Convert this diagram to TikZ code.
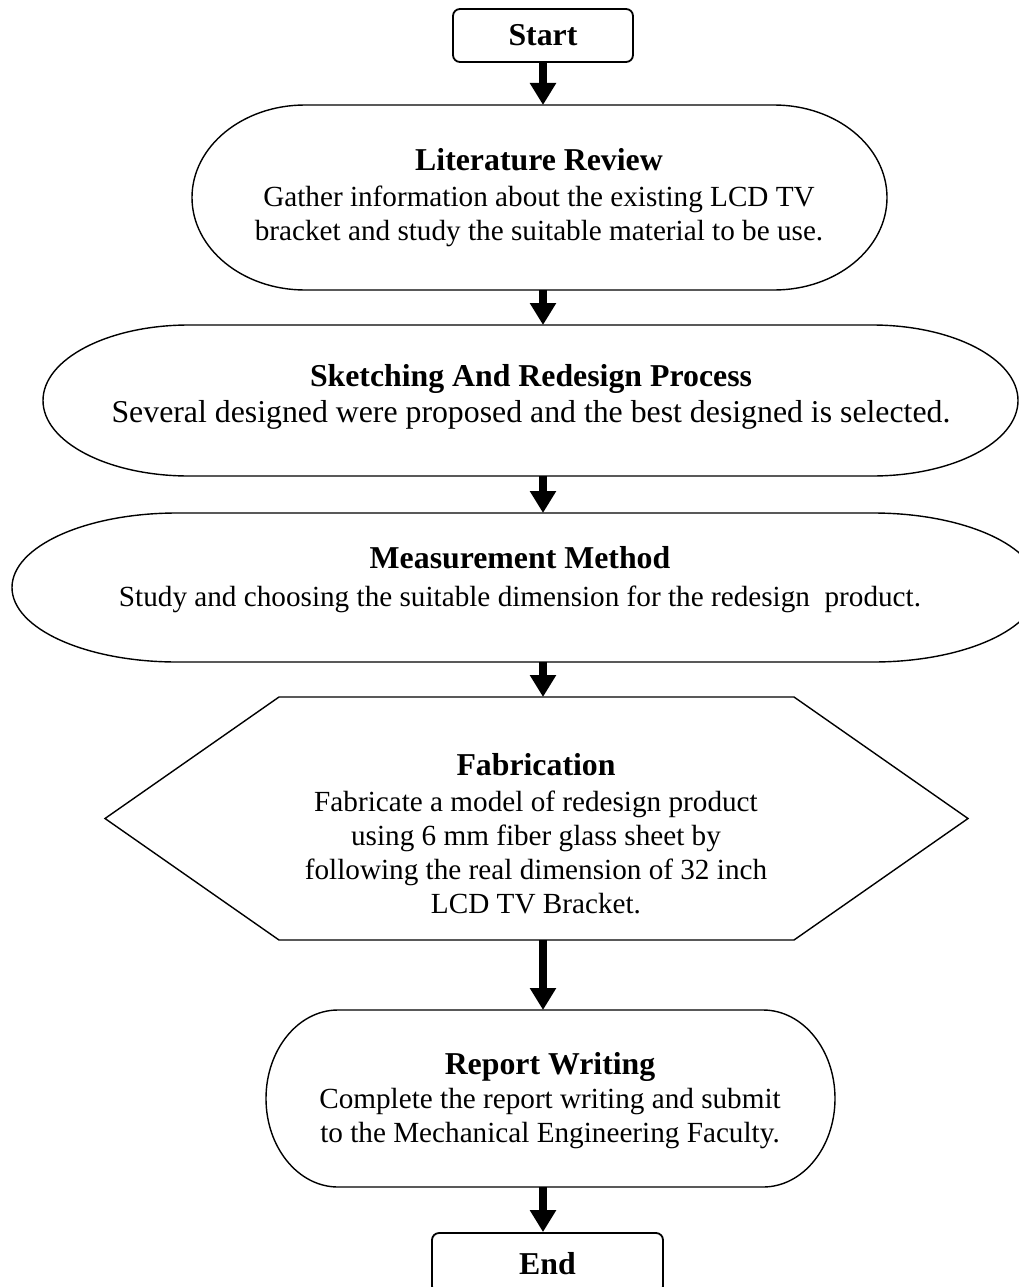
\documentclass[tikz,border=0pt]{standalone}
\usepackage{fontspec}
\setmainfont{Liberation Serif}
\usetikzlibrary{arrows.meta}

\newcommand{\headfont}{\fontsize{31.8}{34}\selectfont\bfseries}
% outline with elliptic ends round an empty node
\newcommand{\termoutline}[3]{%
  \draw[line width=1.4pt] ([xshift=#2]#1.north west) -- ([xshift=-#2]#1.north east)
    arc[start angle=90, end angle=-90, x radius=#2, y radius=#3]
    -- ([xshift=#2]#1.south west)
    arc[start angle=270, end angle=90, x radius=#2, y radius=#3] -- cycle;}

\tikzset{
  termbox/.style={draw, line width=1.8pt, rounded corners=7pt, inner sep=0pt,
    minimum width=#1, minimum height=53pt, font=\headfont},
  stage/.style={inner sep=0pt, outer sep=0pt},
  stagetext/.style={align=center, inner sep=0pt, font=\fontsize{29.2}{34}\selectfont},
  flow/.style={line width=8pt, -{Triangle[width=25pt,length=22pt]}}
}

\begin{document}
\begin{tikzpicture}[x=1pt,y=-1pt]
            \clip (0,0) rectangle (1019,1287);

            \node[termbox=180pt] (start) at (543,35.5) {Start};

            \node[stage, minimum width=695pt, minimum height=185pt] (lit) at (539.5,197.5) {};
            \termoutline{lit}{113pt}{92.5pt}
            \node[stagetext] (littext) at (539,198) {{\headfont Literature Review}\\[2pt]
                Gather information about the existing LCD TV\\
                bracket and study the suitable material to be use.};

            \node[stage, minimum width=975pt, minimum height=151pt] (sketch) at (530.5,400.5) {};
            \termoutline{sketch}{146pt}{75.5pt}
            \node[stagetext, font=\fontsize{31.8}{34}\selectfont] (sketchtext) at (531,397) {{\headfont Sketching And Redesign Process}\\[2pt]
                Several designed were proposed and the best designed is selected.};

            \node[stage, minimum width=1026pt, minimum height=149pt] (meas) at (525,587.5) {};
            \termoutline{meas}{165pt}{74.5pt}
            \node[stagetext] (meastext) at (520,580) {{\headfont Measurement Method}\\[4pt]
                Study and choosing the suitable dimension for the redesign\ \ product.};

            \node[stage, minimum width=863pt, minimum height=243pt] (fab) at (536.5,818.5) {};
            \draw[line width=1.4pt] (fab.west) -- ([xshift=174pt]fab.north west) -- ([xshift=-174pt]fab.north east)
                -- (fab.east) -- ([xshift=-174pt]fab.south east) -- ([xshift=174pt]fab.south west) -- cycle;
            \node[stagetext] (fabtext) at (536,834) {{\headfont Fabrication}\\[2pt]
                Fabricate a model of redesign product\\
                using 6 mm fiber glass sheet by\\
                following the real dimension of 32 inch\\
                LCD TV Bracket.};

            \node[stage, minimum width=569pt, minimum height=177pt] (report) at (550.5,1098.5) {};
            \termoutline{report}{72pt}{88.5pt}
            \node[stagetext] (reporttext) at (550,1101) {{\headfont Report Writing}\\[0pt]
                Complete the report writing and submit\\
                to the Mechanical Engineering Faculty.};

            \node[termbox=231pt, minimum height=60pt, text depth=0pt] (end) at (547.5,1263) {End};

            \draw[flow] (start.south) -- (start.south |- lit.north);
            \draw[flow] (lit.south -| start) -- (sketch.north -| start);
            \draw[flow] (sketch.south -| start) -- (meas.north -| start);
            \draw[flow] (meas.south -| start) -- (fab.north -| start);
            \draw[flow] (fab.south -| start) -- (report.north -| start);
            \draw[flow] (report.south -| start) -- (end.north -| start);
        \end{tikzpicture}
\end{document}
